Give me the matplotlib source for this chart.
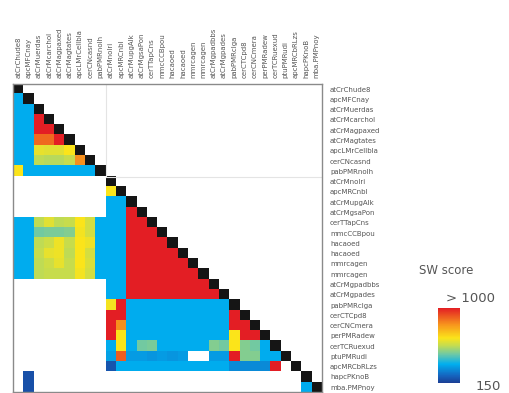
import numpy as np
import matplotlib
matplotlib.use("Agg")
import matplotlib.pyplot as plt
from matplotlib.colors import LinearSegmentedColormap, ListedColormap, Normalize

labels = [
    "atCrChude8", "apcMFCnay", "atCrMuerdas", "atCrMcarchol", "atCrMagpaxed",
    "atCrMagtates", "apcLMrCellbla", "cerCNcasnd", "pabPMRnolh", "atCrMnolri",
    "apcMRCnbl", "atCrMupgAlk", "atCrMgsaPon", "cerTTapCns", "mmcCCBpou",
    "hacaoed", "hacaoed", "mmrcagen", "mmrcagen", "atCrMgpadbbs",
    "atCrMgpades", "pabPMRclga", "cerCTCpd8", "cerCNCmera", "perPMRadew",
    "cerTCRuexud", "ptuPMRudi", "apcMRCbRLzs", "hapcPKnoB", "mba.PMPnoy",
]

# lower triangle of SW scores, row i holds columns 0..i-1 (0 = no hit)
sw_rows = [
    [],
    [360],
    [360, 360],
    [360, 360, 1000],
    [360, 360, 1000, 1000],
    [360, 360, 880, 880, 1000],
    [360, 360, 630, 620, 620, 660],
    [360, 360, 570, 560, 560, 580, 820],
    [660, 360, 360, 360, 360, 360, 360, 360],
    [0, 0, 0, 0, 0, 0, 0, 0, 0],
    [0, 0, 0, 0, 0, 0, 0, 0, 0, 660],
    [0, 0, 0, 0, 0, 0, 0, 0, 0, 360, 360],
    [0, 0, 0, 0, 0, 0, 0, 0, 0, 360, 360, 1000],
    [360, 360, 570, 620, 570, 580, 660, 600, 360, 360, 360, 1000, 1000],
    [360, 360, 480, 490, 490, 500, 650, 600, 360, 360, 360, 1000, 1000, 1000],
    [360, 360, 570, 590, 640, 580, 660, 640, 360, 360, 360, 1000, 1000, 1000, 1000],
    [360, 360, 580, 630, 640, 570, 660, 600, 360, 360, 360, 1000, 1000, 1000, 1000,
     1000],
    [360, 360, 570, 590, 630, 580, 660, 610, 360, 360, 360, 1000, 1000, 1000, 1000,
     1000, 1000],
    [360, 360, 570, 580, 580, 580, 650, 600, 360, 360, 360, 1000, 1000, 1000, 1000,
     1000, 1000, 1000],
    [0, 0, 0, 0, 0, 0, 0, 0, 0, 360, 360, 1000, 1000, 1000, 1000, 1000, 1000, 1000,
     1000],
    [0, 0, 0, 0, 0, 0, 0, 0, 0, 360, 360, 1000, 1000, 1000, 1000, 1000, 1000, 1000,
     1000, 1000],
    [0, 0, 0, 0, 0, 0, 0, 0, 0, 650, 1000, 360, 360, 360, 360, 360, 360, 360, 360,
     360, 360],
    [0, 0, 0, 0, 0, 0, 0, 0, 0, 1000, 1000, 360, 360, 360, 360, 360, 360, 360, 360,
     360, 360, 1000],
    [0, 0, 0, 0, 0, 0, 0, 0, 0, 1000, 820, 360, 360, 360, 360, 360, 360, 360, 360,
     360, 360, 1000, 1000],
    [0, 0, 0, 0, 0, 0, 0, 0, 0, 1000, 660, 360, 360, 360, 360, 360, 360, 360, 360,
     360, 360, 660, 1000, 1000],
    [0, 0, 0, 0, 0, 0, 0, 0, 0, 360, 660, 360, 480, 490, 360, 360, 360, 360, 360,
     500, 480, 660, 500, 480, 360],
    [0, 0, 0, 0, 0, 0, 0, 0, 0, 340, 900, 330, 330, 320, 330, 320, 330, 0, 0,
     330, 330, 1000, 500, 500, 360, 360],
    [0, 0, 0, 0, 0, 0, 0, 0, 0, 200, 360, 360, 360, 360, 360, 360, 360, 360, 360,
     360, 360, 300, 300, 300, 300, 1000, 0],
    [0, 190, 0, 0, 0, 0, 0, 0, 0, 0, 0, 0, 0, 0, 0, 0, 0, 0, 0, 0, 0, 0, 0, 0, 0,
     0, 0, 0],
    [0, 190, 0, 0, 0, 0, 0, 0, 0, 0, 0, 0, 0, 0, 0, 0, 0, 0, 0, 0, 0, 0, 0, 0, 0,
     0, 0, 0, 360],
]

score_min, score_max = 150, 1000

n = len(labels)
M = np.full((n, n), np.nan)
for i, row in enumerate(sw_rows):
    for j, v in enumerate(row):
        if v:
            M[i, j] = v
diag = np.where(np.eye(n) > 0, 1.0, np.nan)

cmap = LinearSegmentedColormap.from_list("sw", [
    (0.0, "#1b3f94"), (0.1, "#1565c0"), (0.25, "#00aeef"), (0.38, "#6cc8a8"),
    (0.5, "#c4dc50"), (0.6, "#fbe41a"), (0.78, "#f7941d"), (1.0, "#e31e24")])
cmap.set_bad("white")
norm = Normalize(score_min, score_max)

fig = plt.figure(figsize=(5.09, 3.93), dpi=100)
ax = fig.add_axes([13.3 / 509, 0.6 / 393, 308.4 / 509, 308.4 / 393])
ext = (-0.5, n - 0.5, n - 0.5, -0.5)
im = ax.imshow(M, cmap=cmap, norm=norm, aspect="auto", extent=ext,
               interpolation="nearest")
black = ListedColormap(["#151515"])
black.set_bad((0, 0, 0, 0))
ax.imshow(diag, cmap=black, aspect="auto", extent=ext, interpolation="nearest")

# faint block boundaries
ax.plot([8.5, 8.5], [-0.5, 8.5], color="#e4e4e4", lw=0.8)
ax.plot([8.5, n - 0.5], [8.5, 8.5], color="#e4e4e4", lw=0.8)

ax.set_xlim(-0.5, n - 0.5)
ax.set_ylim(n - 0.5, -0.5)
ax.set_xticks(range(n))
ax.set_xticklabels(labels, rotation=90, fontsize=5, color="#555555")
ax.set_yticks(range(n))
ax.set_yticklabels(labels, fontsize=5, color="#555555")
ax.xaxis.tick_top()
ax.yaxis.tick_right()
ax.tick_params(axis="x", length=0, pad=4)
ax.tick_params(axis="y", length=0, pad=6)
for s in ax.spines.values():
    s.set_color("#8a8a8a")
    s.set_linewidth(1.0)

cax = fig.add_axes([438 / 509, (393 - 383) / 393, 22 / 509, 75 / 393])
cb = fig.colorbar(im, cax=cax)
cb.outline.set_visible(False)
cax.set_yticks([])
fig.text(446 / 509, 1 - 270 / 393, "SW score", fontsize=8.5, color="#555555",
         ha="center", va="center")
fig.text(446 / 509, 1 - 299 / 393, "> 1000", fontsize=9.5, color="#555555",
         ha="left", va="center")
fig.text(476 / 509, 1 - 386 / 393, "150", fontsize=9.5, color="#555555",
         ha="left", va="center")

fig.savefig("out.png", dpi=100)
